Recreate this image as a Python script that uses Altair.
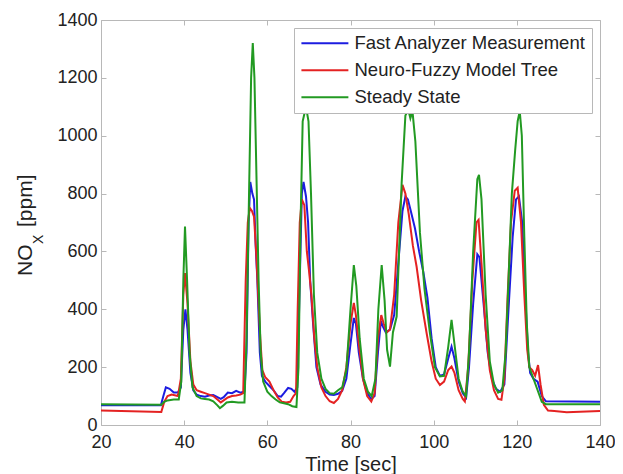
import altair as alt
import pandas as pd

# ---------------- data ----------------
series_names = ["Fast Analyzer Measurement", "Neuro-Fuzzy Model Tree", "Steady State"]
series_colors = ["#1c1ce0", "#e42222", "#229a22"]

fast_t = [20, 34.4, 35, 35.6, 36.5, 37.5, 38.5, 39.2, 39.8, 40.3, 40.8, 41.5, 42.2, 43, 44, 45, 46, 47, 48, 48.8,
          49.5, 50.5, 51.5, 52.5, 53.5, 54.5, 55, 55.5, 55.9, 56.4, 56.8, 57.2, 57.6, 58.2, 58.7, 59.5, 60.5, 61.5,
          62.5, 63.3, 64, 65, 65.8, 66.5, 67.2, 67.8, 68.3, 68.7, 69.3, 69.8, 70.3, 71, 71.8, 72.8, 74, 75, 76, 77,
          78, 79, 80, 80.8, 81.3, 82, 83, 84, 85, 85.8, 86.6, 87.3, 87.8, 88.5, 89.5, 90.5, 91.5, 92.5, 93.2, 93.8,
          94.5, 95.5, 96.5, 97.5, 98.5, 99.5, 100.5, 101.5, 102.5, 103.5, 104.3, 105, 106, 107, 107.8, 108.5, 109.5,
          110.5, 111, 112, 113, 114, 115, 116, 117, 118, 119, 119.8, 120.5, 121.3, 122, 122.7, 123.2, 124, 125, 126,
          127, 140]
fast_v = [68, 68, 100, 130, 125, 112, 112, 130, 330, 400, 330, 180, 120, 105, 100, 98, 102, 104, 96, 90,
          96, 112, 110, 118, 112, 116, 250, 700, 840, 800, 780, 620, 500, 250, 170, 150, 135, 120,
          100, 98, 110, 128, 125, 115, 130, 500, 800, 840, 790, 700, 500, 350, 200, 140, 115, 105, 104, 108,
          118, 160, 280, 370, 350, 250, 160, 110, 90, 100, 250, 360, 340, 320, 330, 380, 560, 740, 790, 780,
          740, 680, 600, 530, 440, 300, 200, 170, 175, 230, 271, 230, 150, 110, 95, 200, 420,
          590, 580, 420, 250, 160, 125, 115, 140, 400, 650, 780, 790, 700, 450, 250, 180, 160, 150, 100,
          82, 80]

nfmt_t = [20, 34.5, 35.2, 36, 37, 38.5, 39.2, 39.8, 40.2, 40.8, 41.5, 42.2, 43, 44, 45, 46, 47, 48, 48.8, 49.5,
          50.5, 51.5, 52.5, 53.5, 54.2, 54.8, 55.3, 55.8, 56.3, 56.8, 57.3, 57.8, 58.3, 58.8, 59.5, 60.5, 61.5,
          62.5, 63.5, 64.5, 65.5, 66.3, 66.9, 67.3, 67.8, 68.3, 68.9, 69.5, 70, 70.6, 71.3, 72, 73, 74, 75, 76, 77,
          78, 79, 80, 80.8, 81.3, 82, 83, 84, 85, 85.8, 86.6, 87.4, 88, 88.7, 89.5, 90.5, 91.5, 92.5, 93.2, 94, 95,
          95.9, 97, 98.3, 99.5, 100.5, 101.5, 102.5, 103.5, 104.3, 105, 106, 107, 107.5, 108.3, 109.3, 110.3, 110.8,
          111.5, 112.5, 113.5, 114.5, 115.5, 116.3, 117, 117.8, 118.6, 119.5, 120.2, 121, 121.8, 122.5, 123, 123.7,
          124.4, 125.1, 125.7, 126.5, 127.5, 129, 132, 140]
nfmt_v = [50, 45, 80, 100, 105, 100, 160, 450, 525, 420, 220, 140, 120, 115, 110, 105, 100, 88, 78, 85,
          95, 100, 102, 105, 110, 500, 700, 750, 740, 720, 600, 450, 300, 190, 165, 150, 120,
          95, 80, 78, 80, 100, 110, 400, 700, 780, 760, 600, 536, 450, 300, 200, 130, 100, 82, 76, 90,
          120, 200, 350, 422, 380, 280, 160, 100, 81, 110, 300, 380, 350, 320, 330, 450, 700, 830, 800, 730, 620,
          547, 430, 318, 220, 160, 138, 150, 190, 202, 180, 120, 90, 81, 200, 500, 700, 709,
          560, 330, 190, 120, 90, 87, 160, 450, 700, 810, 820, 700, 450, 260, 200, 190,
          170, 207, 140, 70, 50, 48, 44, 48]

steady_t = [20, 34.5, 35.2, 36, 37.5, 38.7, 39.3, 39.8, 40.2, 40.7, 41.3, 42, 43, 44, 45, 46, 47, 48, 48.6, 49.3,
            50.2, 51.5, 53, 54.5, 55, 55.6, 56.1, 56.5, 56.9, 57.4, 57.9, 58.4, 59, 60, 61, 62, 63, 64, 65, 66, 67,
            67.5, 68, 68.5, 69.3, 69.9, 70.5, 71.2, 72, 73, 74, 75, 76, 77, 78, 79, 80, 80.8, 81.4, 82.2, 83.2,
            84.2, 85.1, 86, 86.7, 87.5, 88.2, 88.8, 89.5, 90.2, 91.1, 92.3, 93.2, 93.9, 94.4, 94.9, 95.6, 96.7, 97.8,
            99.1, 100.3, 101.5, 102.5, 103.5, 104.3, 105, 106, 107, 107.8, 108.5, 109.5, 110.5, 110.9, 111.5, 112.5,
            113.5, 114.5, 115.5, 116.5, 117.3, 118, 118.8, 119.6, 120.2, 120.7, 121.2, 121.8, 122.4, 123, 124, 125,
            126, 127, 140]
steady_v = [72, 70, 80, 85, 88, 88, 150, 500, 686, 500, 250, 130, 100, 92, 90, 88, 82, 68, 58, 66,
            78, 80, 78, 78, 300, 800, 1200, 1320, 1200, 850, 500, 250, 150, 115, 100, 88, 78, 75, 72, 65, 62,
            200, 700, 1050, 1100, 1050, 800, 450, 250, 160, 125, 110, 108, 120, 130, 190, 400, 553, 480, 300, 160,
            115, 100, 160, 400, 553, 430, 260, 202, 320, 375, 836, 1070, 1090, 1060, 1085, 980, 665, 470,
            318, 200, 168, 170, 270, 363, 280, 160, 115, 100, 250, 600, 850, 865, 780, 450,
            220, 140, 112, 120, 250, 500, 800, 950, 1050, 1085, 1000, 650, 350, 200, 160, 120,
            80, 72, 72]

x_ticks = [20, 40, 60, 80, 100, 120, 140]
y_ticks = [0, 200, 400, 600, 800, 1000, 1200, 1400]

FONT = "Liberation Sans"
FRAME = "#b8b8b8"
TXT = "#222222"

frames = []
for name, t, v in [(series_names[0], fast_t, fast_v),
                   (series_names[1], nfmt_t, nfmt_v),
                   (series_names[2], steady_t, steady_v)]:
    frames.append(pd.DataFrame({"t": t, "v": v, "series": name}))

x_scale = alt.Scale(domain=[20, 140], nice=False, zero=False)
y_scale = alt.Scale(domain=[0, 1400], nice=False)

x_axis = alt.Axis(values=x_ticks, title="Time [sec]", grid=False, domain=False,
                  tickSize=alt.ExprRef("-5"), tickColor=FRAME, labelPadding=13,
                  labelFontSize=18, labelFont=FONT, labelColor=TXT,
                  titleFontSize=20, titleFont=FONT, titleColor=TXT, titleFontWeight="normal",
                  titlePadding=3, labelFlush=False, format="d")
y_axis = alt.Axis(values=y_ticks, title=None, grid=False, domain=False,
                  tickSize=alt.ExprRef("-5"), tickColor=FRAME, labelPadding=9,
                  labelFontSize=18, labelFont=FONT, labelColor=TXT, labelFlush=False, format="d")

# legend line: custom path from -1 to 5 units, size -> unit = sqrt(size)/2
color = alt.Color("series:N",
                  scale=alt.Scale(domain=series_names, range=series_colors),
                  legend=alt.Legend(orient="none", legendX=193, legendY=8, title=None,
                                    symbolType="M-1,0H5", symbolSize=245, symbolStrokeWidth=2,
                                    symbolFillColor="transparent",
                                    labelFontSize=18.5, labelFont=FONT, labelColor=TXT,
                                    labelLimit=500, labelOffset=36, padding=6, rowPadding=8,
                                    fillColor="white", strokeColor=FRAME, cornerRadius=0))

layers = []
for i, df in enumerate(frames):
    layers.append(
        alt.Chart(df).mark_line(strokeWidth=2, clip=True).encode(
            x=alt.X("t:Q", scale=x_scale, axis=x_axis if i == 0 else None),
            y=alt.Y("v:Q", scale=y_scale, axis=y_axis if i == 0 else None),
            color=color,
        )
    )

# top / right inward ticks of the box
box_ticks = alt.Chart(frames[2]).mark_line(opacity=0).encode(
    x=alt.X("t:Q", scale=x_scale, axis=alt.Axis(orient="top", values=x_ticks, labels=False, title=None,
                                                 domain=False, grid=False, tickSize=alt.ExprRef("-5"),
                                                 tickColor=FRAME)),
    y=alt.Y("v:Q", scale=y_scale, axis=alt.Axis(orient="right", values=y_ticks, labels=False, title=None,
                                                 domain=False, grid=False, tickSize=alt.ExprRef("-5"),
                                                 tickColor=FRAME)),
)

# y-axis title with subscript
yt1 = alt.Chart(pd.DataFrame({"txt": ["NO"]})).mark_text(
    angle=270, align="left", baseline="alphabetic", fontSize=21, font=FONT, color=TXT
).encode(x=alt.value(-69), y=alt.value(256), text="txt:N")
yt2 = alt.Chart(pd.DataFrame({"txt": ["X"]})).mark_text(
    angle=270, align="left", baseline="alphabetic", fontSize=14, font=FONT, color=TXT
).encode(x=alt.value(-58), y=alt.value(224), text="txt:N")
yt3 = alt.Chart(pd.DataFrame({"txt": ["[ppm]"]})).mark_text(
    angle=270, align="left", baseline="alphabetic", fontSize=21, font=FONT, color=TXT
).encode(x=alt.value(-69), y=alt.value(207), text="txt:N")

chart = alt.layer(*layers, box_ticks, yt1, yt2, yt3).resolve_axis(
    x="independent", y="independent"
).properties(
    width=499, height=405,
    autosize=alt.AutoSizeParams(type="none"),
    padding={"left": 93, "top": 12, "right": 15, "bottom": 50},
    background="white",
).configure_view(stroke=FRAME, strokeWidth=1)

chart.save("out.html", embed_options={"renderer": "svg", "actions": False})
